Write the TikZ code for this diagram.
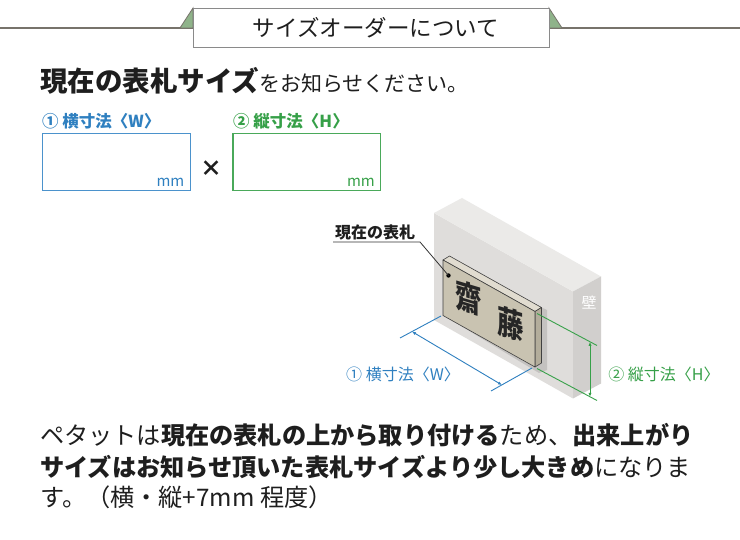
\documentclass[tikz,border=0pt]{standalone}
\usepackage{fontspec}
\setmainfont{Noto Sans CJK JP}
\usetikzlibrary{arrows.meta}
\definecolor{blueW}{HTML}{2F80C0}
\definecolor{blueBox}{HTML}{4B92CC}
\definecolor{greenH}{HTML}{36A048}
\definecolor{greenBox}{HTML}{4AA95A}
\definecolor{lineGray}{HTML}{77736B}
\definecolor{boxGray}{HTML}{8A8A8A}
\definecolor{tabGreen}{HTML}{8FB38A}
\definecolor{wallFront}{HTML}{DFDDDB}
\definecolor{wallTop}{HTML}{EBEAE8}
\definecolor{wallSide}{HTML}{D1CFCD}
\definecolor{shadowC}{HTML}{C4C2C0}
\definecolor{plateFront}{HTML}{C9C3B1}
\definecolor{plateTop}{HTML}{E1DCD0}
\definecolor{plateSide}{HTML}{B3AD9B}
\definecolor{ink}{HTML}{1E1E1E}
\tikzset{
  hline/.style={draw=lineGray, line width=1.5pt},
  tab/.style={fill=tabGreen, draw=lineGray, line width=0.8pt},
  titlebox/.style={draw=boxGray, fill=white, line width=1.3pt, inner sep=0pt},
  txt/.style={inner sep=0pt, text=ink},
  sizebox/.style={line width=1.5pt, fill=white},
  dimW/.style={draw=blueW, line width=0.9pt},
  dimH/.style={draw=greenH, line width=0.9pt},
  platefill/.style={draw=black!75, line width=0.6pt, line join=round},
  arr/.style={{Latex[length=4pt,width=3.2pt]}-{Latex[length=4pt,width=3.2pt]}},
}
\begin{document}
\begin{tikzpicture}[x=1pt,y=-1pt]
\fill[white] (0,0) rectangle (740,540);
\useasboundingbox (0,0) rectangle (740,540);

% ---------- header ----------
\draw[hline] (0,28) -- (740,28);
\filldraw[tab] (180,28) -- (193,8) -- (193,28) -- cycle;
\filldraw[tab] (562,28) -- (549,8) -- (549,28) -- cycle;
\node[titlebox, minimum width=356pt, minimum height=39pt, anchor=north west] (title) at (193,8) {};
\node[txt, anchor=base] (titletext) at (376,36.5) {\fontsize{22.5}{26}\selectfont サイズオーダーについて};

% ---------- heading ----------
\node[txt, anchor=base west] (head) at (40,91.5)
  {\fontsize{27.5}{30}\selectfont\bfseries 現在の表札サイズ\fontsize{21}{24}\selectfont\mdseries をお知らせください。};

% ---------- size boxes ----------
\node[txt, anchor=base west, text=blueW] (lblW) at (42,127.5)
  {\fontsize{16.5}{19}\selectfont\bfseries ① 横寸法〈W〉};
\node[txt, anchor=base west, text=greenH] (lblH) at (233,127.5)
  {\fontsize{16.5}{19}\selectfont\bfseries ② 縦寸法〈H〉};
\draw[sizebox, draw=blueBox] (42.5,133.5) rectangle (190.5,190.5);
\draw[sizebox, draw=greenBox] (233,133.5) rectangle (380.5,190.5);
\node[txt, anchor=base east, text=blueW] (mmW) at (184.5,187) {\fontsize{15}{17}\selectfont mm};
\node[txt, anchor=base east, text=greenH] (mmH) at (375,187) {\fontsize{15}{17}\selectfont mm};
\node[txt] (times) at (211,168.5) {\fontsize{22}{24}\selectfont\bfseries ×};

% ---------- wall ----------
\fill[wallFront] (434,213) -- (573,291.5) -- (573,398.5) -- (434,320) -- cycle;
\fill[wallTop] (434,213) -- (462,198) -- (601,276.5) -- (573,291.5) -- cycle;
\fill[wallSide] (573,291.5) -- (601,276.5) -- (601,383.5) -- (573,398.5) -- cycle;
\node[txt, text=white] (kabe) at (589,302.5) {\fontsize{15}{17}\selectfont 壁};

% ---------- plate ----------
\fill[shadowC] (443,260) -- (446,317) -- (539,373) -- (547,370) -- (547,310) -- (541.5,307.5) -- cycle;
\filldraw[platefill, fill=plateTop] (443,260) -- (449.5,256) -- (541.5,307.5) -- (535,311.5) -- cycle;
\filldraw[platefill, fill=plateSide] (535,311.5) -- (541.5,307.5) -- (541.5,363) -- (535,367) -- cycle;
\filldraw[platefill, fill=plateFront] (443,260) -- (535,311.5) -- (535,367) -- (443,315.5) -- cycle;
\node[txt, transform shape, yslant=-0.3, xscale=0.8, text=black!85] (sai) at (468.5,298.5)
  {\fontsize{33}{35}\selectfont\bfseries 齋};
\node[txt, transform shape, yslant=-0.3, xscale=0.8, text=black!85] (to) at (511,323.5)
  {\fontsize{33}{35}\selectfont\bfseries 藤};

% ---------- label of current plate ----------
\node[circle, fill=black, inner sep=0pt, minimum size=4.4pt] (dot) at (448.5,275.5) {};
\node[txt, anchor=base west] (lblPlate) at (335,238.5) {\fontsize{16}{18}\selectfont\bfseries 現在の表札};
\coordinate (ulL) at (333,242);
\coordinate (ulR) at (420,242);
\draw[black!80, line width=0.8pt] (ulL) -- (ulR) -- (dot.center);

% ---------- W dimension ----------
\coordinate (w1s) at (441,316);
\coordinate (w1e) at (400,338);
\coordinate (w2s) at (532,368);
\coordinate (w2e) at (491,391);
\coordinate (wa) at (412,331.6);
\coordinate (wb) at (502,385);
\draw[dimW] (w1s) -- (w1e);
\draw[dimW] (w2s) -- (w2e);
\draw[dimW, arr] (wa) -- (wb);
\node[txt, text=blueW] (dimWlbl) at (403,374) {\fontsize{16}{18}\selectfont ① 横寸法〈W〉};

% ---------- H dimension ----------
\coordinate (h1s) at (537,313.5);
\coordinate (h1e) at (597,345.5);
\coordinate (h2s) at (537,368.5);
\coordinate (h2e) at (597,400.5);
\coordinate (ha) at (590,341.8);
\coordinate (hb) at (590,396.8);
\draw[dimH] (h1s) -- (h1e);
\draw[dimH] (h2s) -- (h2e);
\draw[dimH, arr] (ha) -- (hb);
\node[txt, text=greenH] (dimHlbl) at (664,374) {\fontsize{16}{18}\selectfont ② 縦寸法〈H〉};

% ---------- bottom text ----------
\node[txt, anchor=base west] (l1) at (40,445)
  {\fontsize{24.2}{30}\selectfont ペタットは\textbf{現在の表札の上から取り付ける}ため、\textbf{出来上がり}};
\node[txt, anchor=base west] (l2) at (40,476)
  {\fontsize{24.2}{30}\selectfont \textbf{サイズはお知らせ頂いた表札サイズより少し大きめ}になりま};
\node[txt, anchor=base west] (l3) at (40,507)
  {\fontsize{24.2}{30}\selectfont す。（横・縦+7mm 程度）};
\end{tikzpicture}
\end{document}
